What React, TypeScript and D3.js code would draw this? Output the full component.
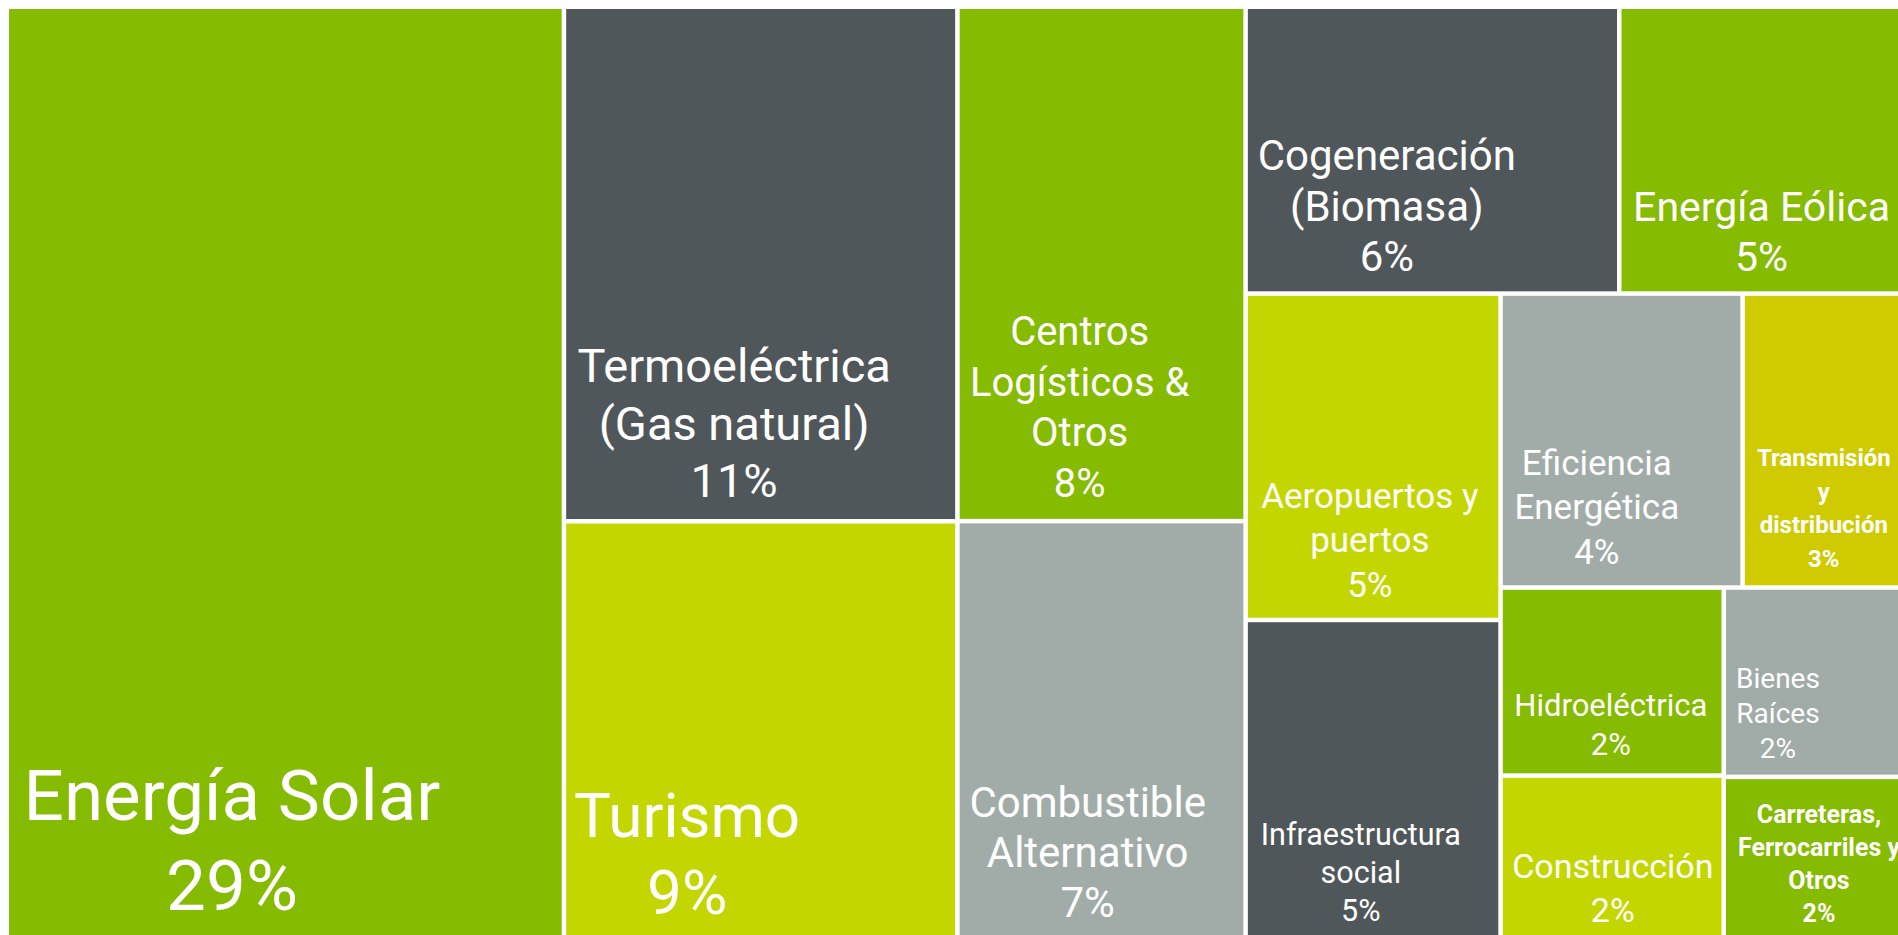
import React, { useMemo } from 'react';
import * as d3 from 'd3';

// shares of the portfolio (%)
const categories = [
  'Energía Solar',
  'Termoeléctrica (Gas natural)',
  'Turismo',
  'Centros Logísticos & Otros',
  'Combustible Alternativo',
  'Cogeneración (Biomasa)',
  'Energía Eólica',
  'Aeropuertos y puertos',
  'Infraestructura social',
  'Eficiencia Energética',
  'Transmisión y distribución',
  'Hidroeléctrica',
  'Construcción',
  'Bienes Raíces',
  'Carreteras, Ferrocarriles y Otros',
];
const shares = [29.0, 11.24, 9.24, 8.23, 6.77, 5.95, 4.92, 4.62, 4.59, 3.95, 3.03, 2.33, 2.09, 2.15, 1.9];
const labelLines = [
  ['Energía Solar'],
  ['Termoeléctrica', '(Gas natural)'],
  ['Turismo'],
  ['Centros', 'Logísticos &', 'Otros'],
  ['Combustible', 'Alternativo'],
  ['Cogeneración', '(Biomasa)'],
  ['Energía Eólica'],
  ['Aeropuertos y', 'puertos'],
  ['Infraestructura', 'social'],
  ['Eficiencia', 'Energética'],
  ['Transmisión', 'y', 'distribución'],
  ['Hidroeléctrica'],
  ['Construcción'],
  ['Bienes', 'Raíces'],
  ['Carreteras,', 'Ferrocarriles y', 'Otros'],
];

const GREEN = '#85BB00';
const DARK = '#4F575A';
const LIME = '#C4D600';
const GREY = '#A1ACA9';
const MUSTARD = '#CFCB00';
const cellColors = [GREEN, DARK, LIME, GREEN, GREY, DARK, GREEN, LIME, DARK, GREY, MUSTARD, GREEN, LIME, GREY, GREEN];

// label placement relative to the cell's top-left corner (first baseline)
const labelStyles = [
  { dx: 223, dy: 811, size: 71, lh: 90, bold: false },
  { dx: 168, dy: 373, size: 47, lh: 57.5, bold: false },
  { dx: 121, dy: 313, size: 62, lh: 77, bold: false },
  { dx: 120, dy: 336, size: 40, lh: 50.5, bold: false },
  { dx: 128, dy: 294, size: 42, lh: 50, bold: false },
  { dx: 139, dy: 161, size: 42, lh: 50.5, bold: false },
  { dx: 140, dy: 212, size: 41, lh: 50, bold: false },
  { dx: 122, dy: 212, size: 35, lh: 44.5, bold: false },
  { dx: 113, dy: 223, size: 30.5, lh: 38, bold: false },
  { dx: 94, dy: 179, size: 35, lh: 44.5, bold: false },
  { dx: 79, dy: 170, size: 24, lh: 33.7, bold: true },
  { dx: 108, dy: 126, size: 31, lh: 39, bold: false },
  { dx: 110, dy: 100, size: 34, lh: 44, bold: false },
  { dx: 52, dy: 98, size: 28, lh: 35, bold: false },
  { dx: 93, dy: 44, size: 25, lh: 33, bold: true },
];

const WIDTH = 1898;
const HEIGHT = 935;
const X0 = 9;
const Y0 = 9;
const X1 = 1926;
const Y1 = 942;
const GAP = 4.5;
const MAX_ROW = 2;

// squarified strips, but never more than two cells per strip (Excel-like)
function excelTile(parent, x0, y0, x1, y1) {
  const nodes = parent.children;
  let value = parent.value;
  let i0 = 0;
  while (i0 < nodes.length) {
    const dx = x1 - x0;
    const dy = y1 - y0;
    const side = Math.min(dx, dy);
    const unit = (dx * dy) / value;
    const worst = (a, b) => {
      const part = nodes.slice(a, b);
      const s = d3.sum(part, (n) => n.value);
      const t = (s * unit) / side;
      return d3.max(part, (n) => {
        const l = (side * n.value) / s;
        return Math.max(t / l, l / t);
      });
    };
    let i1 = i0 + 1;
    let best = worst(i0, i1);
    while (i1 < nodes.length && i1 - i0 < MAX_ROW) {
      const r = worst(i0, i1 + 1);
      if (r > best) break;
      best = r;
      i1++;
    }
    const children = nodes.slice(i0, i1);
    const sum = d3.sum(children, (n) => n.value);
    const row = { children, value: sum };
    if (dx < dy) {
      const y = y0 + (dy * sum) / value;
      d3.treemapDice(row, x0, y0, x1, y);
      y0 = y;
    } else {
      const x = x0 + (dx * sum) / value;
      d3.treemapSlice(row, x0, y0, x, y1);
      x0 = x;
    }
    value -= sum;
    i0 = i1;
  }
}

export default function App() {
  const leaves = useMemo(() => {
    const data = {
      children: categories.map((name, i) => ({ name, value: shares[i], index: i })),
    };
    const root = d3.hierarchy(data).sum((d) => d.value || 0);
    d3.treemap().tile(excelTile).size([X1 - X0, Y1 - Y0]).paddingInner(GAP)(root);
    return root.leaves();
  }, []);

  const total = d3.sum(shares);
  const pct = d3.format('.0%');

  return (
    <div style={{ position: 'fixed', left: 0, top: 0, width: WIDTH, height: HEIGHT, overflow: 'hidden', background: '#fff' }}>
      <svg width={WIDTH} height={HEIGHT} style={{ display: 'block' }} fontFamily="Roboto, 'Liberation Sans', sans-serif">
        <g transform={`translate(${X0},${Y0})`}>
          {leaves.map((d) => {
            const i = d.data.index;
            const st = labelStyles[i];
            const lines = [...labelLines[i], pct(d.data.value / total)];
            return (
              <g key={categories[i]}>
                <rect x={d.x0} y={d.y0} width={d.x1 - d.x0} height={d.y1 - d.y0} fill={cellColors[i]} />
                <text
                  x={d.x0 + st.dx}
                  y={d.y0 + st.dy}
                  fill="#fff"
                  fontSize={st.size}
                  fontWeight={st.bold ? 700 : 400}
                  textAnchor="middle"
                >
                  {lines.map((line, k) => (
                    <tspan key={k} x={d.x0 + st.dx} y={d.y0 + st.dy + k * st.lh}>
                      {line}
                    </tspan>
                  ))}
                </text>
              </g>
            );
          })}
        </g>
      </svg>
    </div>
  );
}
